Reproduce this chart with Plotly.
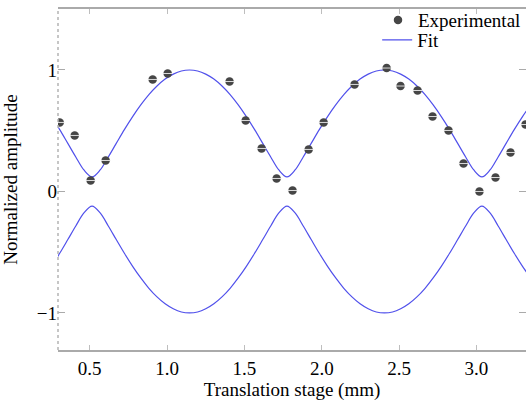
import plotly.graph_objects as go

exp_x = [0.306, 0.403, 0.506, 0.603, 0.907, 1.004, 1.404, 1.508, 1.611, 1.708, 1.811,
         1.915, 2.012, 2.212, 2.419, 2.509, 2.619, 2.716, 2.819, 2.916, 3.019, 3.123,
         3.220, 3.317]
exp_y = [0.568, 0.461, 0.090, 0.255, 0.922, 0.971, 0.905, 0.584, 0.354, 0.107, 0.008,
         0.346, 0.568, 0.881, 1.016, 0.868, 0.831, 0.617, 0.502, 0.230, 0.000, 0.115,
         0.321, 0.551]

# Fit curve samples
fit_x = [0.2525, 0.305, 0.3575, 0.41, 0.4625, 0.515, 0.5675, 0.62, 0.6725, 0.725,
         0.7775, 0.83, 0.8825, 0.935, 0.9875, 1.04, 1.0925, 1.145, 1.1975, 1.25,
         1.3025, 1.355, 1.4075, 1.46, 1.5125, 1.565, 1.6175, 1.67, 1.7225, 1.775,
         1.8275, 1.88, 1.9325, 1.985, 2.0375, 2.09, 2.1425, 2.195, 2.2475, 2.3,
         2.3525, 2.405, 2.4575, 2.51, 2.5625, 2.615, 2.6675, 2.72, 2.7725, 2.825,
         2.8775, 2.93, 2.9825, 3.035, 3.0875, 3.14, 3.1925, 3.245, 3.2975, 3.35]
fit_upper = [0.616, 0.511, 0.398, 0.284, 0.177, 0.12, 0.177, 0.284, 0.398, 0.511,
             0.616, 0.712, 0.797, 0.868, 0.925, 0.966, 0.992, 1.0, 0.992, 0.966,
             0.925, 0.868, 0.797, 0.712, 0.616, 0.511, 0.398, 0.284, 0.177, 0.12,
             0.177, 0.284, 0.398, 0.511, 0.616, 0.712, 0.797, 0.868, 0.925, 0.966,
             0.992, 1.0, 0.992, 0.966, 0.925, 0.868, 0.797, 0.712, 0.616, 0.511,
             0.398, 0.284, 0.177, 0.12, 0.177, 0.284, 0.398, 0.511, 0.616, 0.712]
fit_lower = [-0.616, -0.511, -0.398, -0.284, -0.177, -0.12, -0.177, -0.284, -0.398, -0.511,
             -0.616, -0.712, -0.797, -0.868, -0.925, -0.966, -0.992, -1.0, -0.992, -0.966,
             -0.925, -0.868, -0.797, -0.712, -0.616, -0.511, -0.398, -0.284, -0.177, -0.12,
             -0.177, -0.284, -0.398, -0.511, -0.616, -0.712, -0.797, -0.868, -0.925, -0.966,
             -0.992, -1.0, -0.992, -0.966, -0.925, -0.868, -0.797, -0.712, -0.616, -0.511,
             -0.398, -0.284, -0.177, -0.12, -0.177, -0.284, -0.398, -0.511, -0.616, -0.712]

x_ticks = [0.5, 1.0, 1.5, 2.0, 2.5, 3.0]
x_ticklabels = ["0.5", "1.0", "1.5", "2.0", "2.5", "3.0"]
y_ticks = [-1, 0, 1]
y_ticklabels = ["\u22121", "0", "1"]

FONT = "'Liberation Serif', 'Times New Roman', serif"
LINE_COLOR = "rgb(80,80,235)"
MARK_COLOR = "rgb(70,70,70)"

fig = go.Figure()

fig.add_trace(go.Scatter(
    x=fit_x, y=fit_upper, mode="lines", name="Fit",
    line=dict(color=LINE_COLOR, width=1.2, shape="spline"),
    showlegend=False))
fig.add_trace(go.Scatter(
    x=fit_x, y=fit_lower, mode="lines", name="Fit",
    line=dict(color=LINE_COLOR, width=1.2, shape="spline"),
    showlegend=False))

fig.add_trace(go.Scatter(
    x=exp_x, y=exp_y, mode="markers", name="Experimental",
    marker=dict(symbol="circle", size=8.5, color=MARK_COLOR,
                line=dict(width=0)), legend="legend"))
fig.add_trace(go.Scatter(
    x=exp_x, y=exp_y, mode="markers", name="Experimental",
    marker=dict(symbol="line-ew", size=7, line=dict(color="rgba(235,235,235,0.9)", width=1)),
    showlegend=False, hoverinfo="skip"))

# legend entry for fit
fig.add_trace(go.Scatter(
    x=[None], y=[None], mode="lines", name="Fit",
    line=dict(color=LINE_COLOR, width=1.2), legend="legend2"))

leg_common = dict(yanchor="top", bgcolor="rgba(0,0,0,0)",
                  font=dict(family=FONT, size=19), itemwidth=30, borderwidth=0)

fig.update_layout(
    width=526, height=403,
    margin=dict(l=58, r=0, t=9, b=53),
    paper_bgcolor="white", plot_bgcolor="white",
    font=dict(family=FONT, size=19, color="black"),
    showlegend=True,
    legend=dict(x=1.0, y=1.023, xanchor="right", **leg_common),
    legend2=dict(x=0.682, y=0.965, xanchor="left", **leg_common),
    xaxis=dict(range=[0.295, 3.32], tickvals=x_ticks, ticktext=x_ticklabels,
               showgrid=False, zeroline=False,
               showline=True, linecolor="rgb(170,170,170)", linewidth=1.5,
               mirror="ticks", ticks="inside", ticklen=5, tickwidth=1,
               tickcolor="rgb(190,190,190)",
               tickfont=dict(family=FONT, size=19),
               title=dict(text="Translation stage (mm)", font=dict(family=FONT, size=19),
                          standoff=4)),
    yaxis=dict(range=[-1.305, 1.502], tickvals=y_ticks, ticktext=y_ticklabels,
               showgrid=False, zeroline=False,
               showline=False, mirror="ticks", ticks="inside", ticklen=7, tickwidth=1,
               tickcolor="rgb(170,170,170)",
               tickfont=dict(family=FONT, size=19),
               title=dict(text="Normalized amplitude", font=dict(family=FONT, size=19),
                          standoff=14)),
    shapes=[dict(type="line", xref="paper", yref="paper", x0=0, x1=0, y0=0, y1=1,
                 line=dict(color="rgb(180,180,180)", width=1.5, dash="dot"))],
)

fig.write_html("out.html")
